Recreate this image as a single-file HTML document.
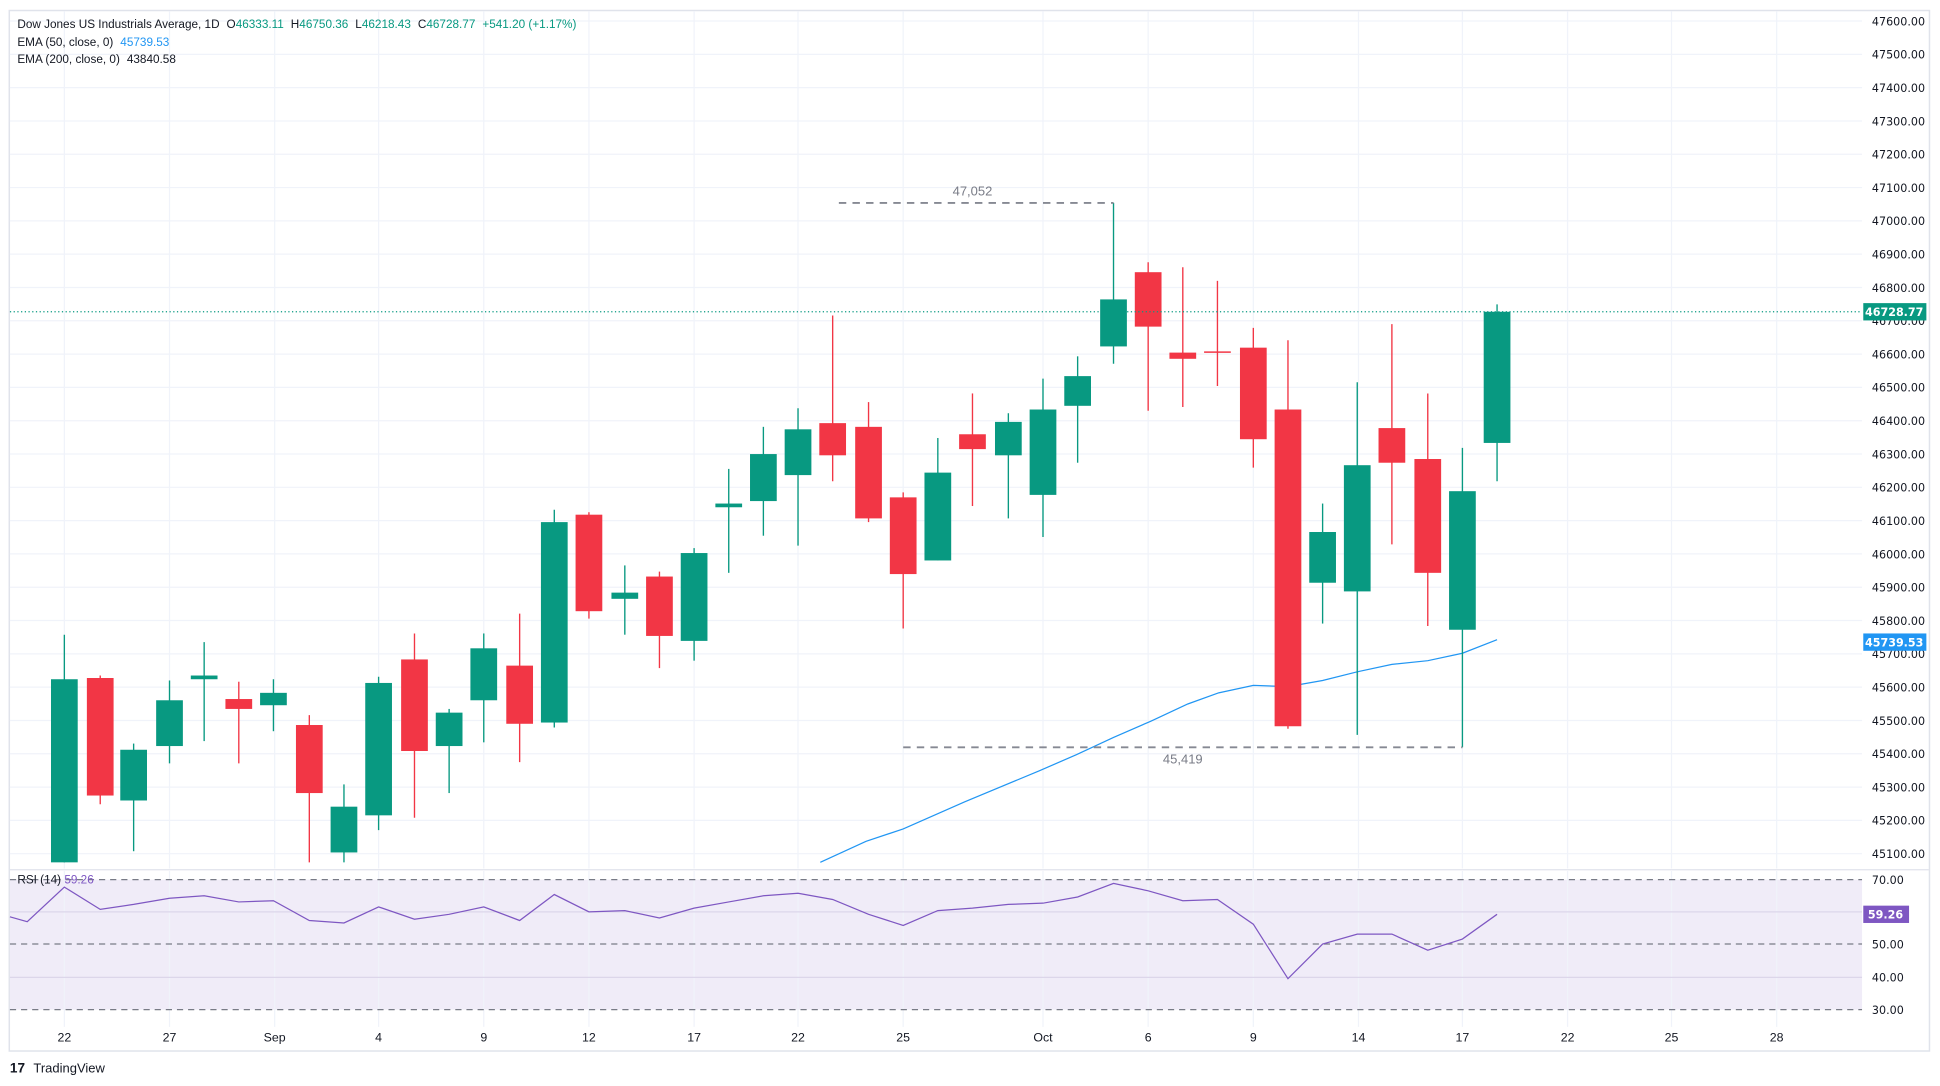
<!DOCTYPE html>
<html><head><meta charset="utf-8"><style>
html,body{margin:0;padding:0;background:#fff;}
svg{display:block;font-family:"Liberation Sans",sans-serif;}
</style></head><body>
<svg id="s" width="1940" height="1086" viewBox="0 0 1568 877.77" xmlns="http://www.w3.org/2000/svg">
<rect x="0" y="0" width="1568" height="877.77" fill="#fff"/>
<rect x="7.5" y="8.5" width="1552" height="841" fill="#fff" stroke="#e0e3eb" stroke-width="1.2"/>
<rect x="8" y="711" width="1497" height="105" fill="#f0ecf8"/>
<g id="grid"></g>
<line x1="8" y1="703" x2="1559" y2="703" stroke="#e0e3eb" stroke-width="1"/>
<g id="rsi"></g>
<g id="ema"></g>
<g id="candles"></g>
<line x1="678" y1="164" x2="900" y2="164" stroke="#868993" stroke-width="1.5" stroke-dasharray="6,5"/>
<text x="786" y="158" font-size="10.5" fill="#787b86" text-anchor="middle">47,052</text>
<line x1="730" y1="604" x2="1182" y2="604" stroke="#868993" stroke-width="1.5" stroke-dasharray="6,5"/>
<text x="956" y="617" font-size="10.5" fill="#787b86" text-anchor="middle">45,419</text>
<line x1="8" y1="252" x2="1505" y2="252" stroke="#089981" stroke-width="1" stroke-dasharray="1,2"/>
<g font-size="9.5" fill="#131722">
<text x="14" y="22.5">Dow Jones US Industrials Average, 1D <tspan dx="3" fill="#131722">O</tspan><tspan fill="#089981">46333.11</tspan> <tspan dx="3">H</tspan><tspan fill="#089981">46750.36</tspan> <tspan dx="3">L</tspan><tspan fill="#089981">46218.43</tspan> <tspan dx="3">C</tspan><tspan fill="#089981">46728.77</tspan> <tspan dx="3" fill="#089981">+541.20 (+1.17%)</tspan></text>
<text x="14" y="37">EMA (50, close, 0) <tspan dx="3" fill="#2196f3">45739.53</tspan></text>
<text x="14" y="51">EMA (200, close, 0) <tspan dx="3">43840.58</tspan></text>
<text x="14" y="714">RSI (14) <tspan fill="#7e57c2">59.26</tspan></text>
</g>
<g id="axis" font-size="9" fill="#131722" style="font-family:'DejaVu Sans',sans-serif"></g>
<rect x="1506" y="245" width="51" height="14" fill="#089981"/>
<text x="1531" y="255.5" font-size="9" fill="#fff" text-anchor="middle" font-weight="bold" style="font-family:'DejaVu Sans',sans-serif">46728.77</text>
<rect x="1506" y="512" width="51" height="14" fill="#2196f3"/>
<text x="1531" y="522.5" font-size="9" fill="#fff" text-anchor="middle" font-weight="bold" style="font-family:'DejaVu Sans',sans-serif">45739.53</text>
<rect x="1506" y="732" width="37" height="14" fill="#7e57c2"/>
<text x="1524" y="742.5" font-size="9" fill="#fff" text-anchor="middle" font-weight="bold" style="font-family:'DejaVu Sans',sans-serif">59.26</text>
<g font-size="10" fill="#131722" text-anchor="middle">
<text x="52" y="842">22</text><text x="137" y="842">27</text><text x="222" y="842">Sep</text><text x="306" y="842">4</text><text x="391" y="842">9</text><text x="476" y="842">12</text><text x="561" y="842">17</text><text x="645" y="842">22</text><text x="730" y="842">25</text><text x="843" y="842">Oct</text><text x="928" y="842">6</text><text x="1013" y="842">9</text><text x="1098" y="842">14</text><text x="1182" y="842">17</text><text x="1267" y="842">22</text><text x="1351" y="842">25</text><text x="1436" y="842">28</text>
</g>
<text x="8" y="867" font-size="11" fill="#131722" font-weight="bold">17</text>
<text x="27" y="867" font-size="10.5" fill="#131722">TradingView</text>
</svg>
<script>
const NS="http://www.w3.org/2000/svg";
function el(p,t,a){const e=document.createElementNS(NS,t);for(const k in a)e.setAttribute(k,a[k]);document.getElementById(p).appendChild(e);return e;}
for(let i=0;i<=25;i++){const y=17+i*26.92;el("grid","line",{x1:8,x2:1505,y1:y,y2:y,stroke:"#f0f3fa","stroke-width":1});
 const t=el("axis","text",{x:1513,y:y+3.5});t.textContent=(47600-i*100).toFixed(2);}
[52,137,222,306,391,476,561,645,730,843,928,1013,1098,1182,1267,1351,1436].forEach(x=>{el("grid","line",{x1:x,x2:x,y1:9,y2:702,stroke:"#f0f3fa","stroke-width":1});el("grid","line",{x1:x,x2:x,y1:704,y2:830,stroke:"#f0f3fa","stroke-width":1});});
[[711,"70.00",1],[737,null,0],[763,"50.00",1],[790,"40.00",0],[816,"30.00",1]].forEach(([y,l,d])=>{
 el("grid","line",{x1:8,x2:1505,y1:y,y2:y,stroke:d?"#787b86":"#dcd6ea","stroke-width":1,"stroke-dasharray":d?"5,4":"none"});
 if(l){const t=el("axis","text",{x:1513,y:y+3.5});t.textContent=l;}});
const r=[[8,741],[22,745],[52,717],[81,735],[108,731],[137,726],[165,724],[193,729],[221,728],[250,744],[278,746],[306,733],[335,743],[363,739],[391,733],[420,744],[448,723],[476,737],[505,736],[533,742],[561,734],[589,729],[617,724],[645,722],[673,727],[702,739],[730,748],[758,736],[786,734],[815,731],[843,730],[871,725],[900,714],[928,720],[956,728],[984,727],[1013,747],[1041,791],[1069,763],[1097,755],[1125,755],[1154,768],[1182,759],[1210,739]];
el("rsi","polyline",{points:r.map(p=>p.join(",")).join(" "),fill:"none",stroke:"#7e57c2","stroke-width":1});
const e=[[663,697],[700,680],[730,670],[780,648],[840,623],[870,610],[900,596],[930,583],[960,569],[985,560],[1013,554],[1041,555],[1069,550],[1097,543],[1125,537],[1154,534],[1182,528],[1210,517]];
el("ema","polyline",{points:e.map(p=>p.join(",")).join(" "),fill:"none",stroke:"#2196f3","stroke-width":1});
const c=[[52,549,697,513,697,1],[81,548,643,546,650,0],[108,606,647,601,688,1],[137,566,603,550,617,1],[165,546,549,519,599,1],[193,565,573,551,617,0],[221,560,570,549,591,1],[250,586,641,578,697,0],[278,652,689,634,697,1],[306,552,659,547,671,1],[335,533,607,512,661,0],[363,576,603,573,641,1],[391,524,566,512,600,1],[420,538,585,496,616,0],[448,422,584,412,588,1],[476,416,494,414,500,0],[505,479,484,457,513,1],[533,466,514,462,540,0],[561,447,518,443,534,1],[589,407,410,379,463,1],[617,367,405,345,433,1],[645,347,384,330,441,1],[673,342,368,255,389,0],[702,345,419,325,422,0],[730,402,464,398,508,0],[758,382,453,354,453,1],[786,351,363,318,409,0],[815,341,368,334,419,1],[843,331,400,306,434,1],[871,304,328,288,374,1],[900,242,280,164,294,1],[928,220,264,212,332,0],[956,285,290,216,329,0],[984,284,285,227,312,0],[1013,281,355,265,378,0],[1041,331,587,275,589,0],[1069,430,471,407,504,1],[1097,376,478,309,594,1],[1125,346,374,262,440,0],[1154,371,463,318,506,0],[1182,397,509,362,604,1],[1210,252,358,246,389,1]];
c.forEach(([x,t,b,h,l,g])=>{const col=g?"#089981":"#f23645";
 el("candles","line",{x1:x,x2:x,y1:h,y2:Math.min(l,702),stroke:col,"stroke-width":1.1});
 el("candles","rect",{x:x-10.8,y:t,width:21.6,height:Math.max(Math.min(b,702)-t,1.2),fill:col});});
</script>
</body></html>
